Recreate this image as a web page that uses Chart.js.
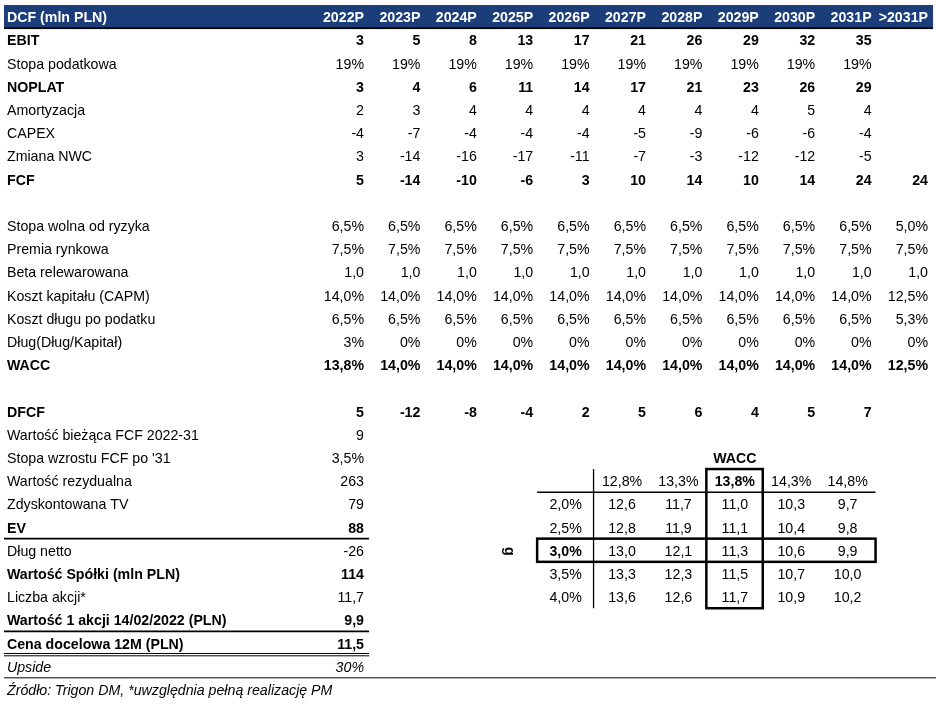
<!DOCTYPE html>
<html lang="pl">
<head>
<meta charset="utf-8">
<title>DCF (mln PLN)</title>
<script src="https://cdn.jsdelivr.net/npm/chart.js@4"></script>
<style>
    html, body { margin: 0; padding: 0; background: #fff; }
    #dcf { display: block; }
</style>
</head>
<body>
<canvas id="dcf" width="936" height="709"></canvas>
<script>
// --------------------
// Data
// --------------------
const tableTitle = 'DCF (mln PLN)';
const years = ['2022P','2023P','2024P','2025P','2026P','2027P','2028P','2029P','2030P','2031P','>2031P'];

const ebit        = [3, 5, 8, 13, 17, 21, 26, 29, 32, 35];
const taxRate     = [19, 19, 19, 19, 19, 19, 19, 19, 19, 19];
const noplat      = [3, 4, 6, 11, 14, 17, 21, 23, 26, 29];
const amortyzacja = [2, 3, 4, 4, 4, 4, 4, 4, 5, 4];
const capex       = [-4, -7, -4, -4, -4, -5, -9, -6, -6, -4];
const nwcChange   = [3, -14, -16, -17, -11, -7, -3, -12, -12, -5];
const fcf         = [5, -14, -10, -6, 3, 10, 14, 10, 14, 24, 24];

const riskFree    = [6.5, 6.5, 6.5, 6.5, 6.5, 6.5, 6.5, 6.5, 6.5, 6.5, 5.0];
const marketPrem  = [7.5, 7.5, 7.5, 7.5, 7.5, 7.5, 7.5, 7.5, 7.5, 7.5, 7.5];
const beta        = [1.0, 1.0, 1.0, 1.0, 1.0, 1.0, 1.0, 1.0, 1.0, 1.0, 1.0];
const costEquity  = [14.0, 14.0, 14.0, 14.0, 14.0, 14.0, 14.0, 14.0, 14.0, 14.0, 12.5];
const costDebt    = [6.5, 6.5, 6.5, 6.5, 6.5, 6.5, 6.5, 6.5, 6.5, 6.5, 5.3];
const debtShare   = [3, 0, 0, 0, 0, 0, 0, 0, 0, 0, 0];
const wacc        = [13.8, 14.0, 14.0, 14.0, 14.0, 14.0, 14.0, 14.0, 14.0, 14.0, 12.5];

const dfcf        = [5, -12, -8, -4, 2, 5, 6, 4, 5, 7];

const pvFcf       = 9;
const growthAfter = 3.5;
const residual    = 263;
const discountTV  = 79;
const ev          = 88;
const netDebt     = -26;
const equityValue = 114;
const shares      = 11.7;
const perShare    = 9.9;
const targetPrice = 11.5;
const upside      = 30;

// sensitivity: price vs WACC (columns) and g (rows)
const sensWacc = [12.8, 13.3, 13.8, 14.3, 14.8];
const sensG    = [2.0, 2.5, 3.0, 3.5, 4.0];
const sensPrice = [
    [12.6, 11.7, 11.0, 10.3, 9.7],
    [12.8, 11.9, 11.1, 10.4, 9.8],
    [13.0, 12.1, 11.3, 10.6, 9.9],
    [13.3, 12.3, 11.5, 10.7, 10.0],
    [13.6, 12.6, 11.7, 10.9, 10.2]
];

const sourceNote = 'Źródło: Trigon DM, *uwzględnia pełną realizację PM';

// --------------------
// Layout helpers
// --------------------
const ROW_H = 23.2;        // px per row
const FIRST_ROW = 41;      // px of row 0 (EBIT)
const COL_W = 56.4;        // px per year column
const COL0_RIGHT = 307.6;  // px where column 0 would end
const LABEL_X = -5.33;     // x value of row labels
const EDGE_X = -5.383;     // left edge of rules
const CENTER = -0.425;     // centred cell offset from column right edge
const FONT = '"Liberation Sans", Arial, sans-serif';
const FS = 14.2;

const fmt = (v, dec, suffix) => v.toFixed(dec).replace('.', ',') + (suffix || '');

// rows of the main table, in order (null = empty row)
const mainRows = [
    { label: 'EBIT', values: ebit, dec: 0, bold: true },
    { label: 'Stopa podatkowa', values: taxRate, dec: 0, suffix: '%' },
    { label: 'NOPLAT', values: noplat, dec: 0, bold: true },
    { label: 'Amortyzacja', values: amortyzacja, dec: 0 },
    { label: 'CAPEX', values: capex, dec: 0 },
    { label: 'Zmiana NWC', values: nwcChange, dec: 0 },
    { label: 'FCF', values: fcf, dec: 0, bold: true },
    null,
    { label: 'Stopa wolna od ryzyka', values: riskFree, dec: 1, suffix: '%' },
    { label: 'Premia rynkowa', values: marketPrem, dec: 1, suffix: '%' },
    { label: 'Beta relewarowana', values: beta, dec: 1 },
    { label: 'Koszt kapitału (CAPM)', values: costEquity, dec: 1, suffix: '%' },
    { label: 'Koszt długu po podatku', values: costDebt, dec: 1, suffix: '%' },
    { label: 'Dług(Dług/Kapitał)', values: debtShare, dec: 0, suffix: '%' },
    { label: 'WACC', values: wacc, dec: 1, suffix: '%', bold: true },
    null,
    { label: 'DFCF', values: dfcf, dec: 0, bold: true },
    { label: 'Wartość bieżąca FCF 2022-31', values: [pvFcf], dec: 0 },
    { label: "Stopa wzrostu FCF po '31", values: [growthAfter], dec: 1, suffix: '%' },
    { label: 'Wartość rezydualna', values: [residual], dec: 0 },
    { label: 'Zdyskontowana TV', values: [discountTV], dec: 0 },
    { label: 'EV', values: [ev], dec: 0, bold: true },
    { label: 'Dług netto', values: [netDebt], dec: 0 },
    { label: 'Wartość Spółki (mln PLN)', values: [equityValue], dec: 0, bold: true },
    { label: 'Liczba akcji*', values: [shares], dec: 1 },
    { label: 'Wartość 1 akcji 14/02/2022 (PLN)', values: [perShare], dec: 1, bold: true },
    { label: 'Cena docelowa 12M (PLN)', values: [targetPrice], dec: 1, bold: true },
    { label: 'Upside', values: [upside], dec: 0, suffix: '%', italic: true },
    { label: sourceNote, values: [], italic: true }
];

// --------------------
// Datasets (one per text row, points carry the cell text)
// --------------------
const datasets = [];

// header: title + years
datasets.push({
    data: [{ x: LABEL_X, y: -1 }].concat(years.map((y, k) => ({ x: k + 1, y: -1 }))),
    cells: [tableTitle].concat(years), bold: true, color: '#ffffff', align: 'right', firstLeft: true
});

mainRows.forEach((r, i) => {
    if (!r) return;
    datasets.push({
        data: [{ x: LABEL_X, y: i }].concat(r.values.map((v, k) => ({ x: k + 1, y: i }))),
        cells: [r.label].concat(r.values.map(v => fmt(v, r.dec, r.suffix))),
        bold: r.bold, italic: r.italic, color: '#000', align: 'right', firstLeft: true
    });
});

// sensitivity table: WACC title, header, rows
const SENS_ROW = 19;   // header row index
const SENS_COL = 6;    // first WACC column
datasets.push({
    data: [{ x: SENS_COL + 2 + CENTER, y: SENS_ROW - 1 }],
    cells: ['WACC'], bold: true, color: '#000', align: 'center'
});
datasets.push({
    data: sensWacc.map((w, k) => ({ x: SENS_COL + k + CENTER, y: SENS_ROW })),
    cells: sensWacc.map(w => fmt(w, 1, '%')), boldIdx: [2], color: '#000', align: 'center'
});
sensG.forEach((g, r) => {
    datasets.push({
        data: [{ x: SENS_COL - 1 + CENTER, y: SENS_ROW + 1 + r }]
            .concat(sensPrice[r].map((p, k) => ({ x: SENS_COL + k + CENTER, y: SENS_ROW + 1 + r }))),
        cells: [fmt(g, 1, '%')].concat(sensPrice[r].map(p => fmt(p, 1))),
        boldIdx: g === 3.0 ? [0] : [], color: '#000', align: 'center'
    });
});

// --------------------
// Table plugin
// --------------------
const tablePlugin = {
    id: 'dcfTable',
    beforeDatasetsDraw(chart) {
        const ctx = chart.ctx;
        const X = v => chart.scales.x.getPixelForValue(v);
        const Y = v => chart.scales.y.getPixelForValue(v);
        ctx.save();

        // header bar
        ctx.fillStyle = '#1b3d7a';
        ctx.fillRect(X(EDGE_X), Y(-1.55), X(11.09) - X(EDGE_X), Y(-0.6) - Y(-1.55));
        ctx.fillStyle = '#000';
        ctx.fillRect(X(EDGE_X), Y(-0.6), X(11.09) - X(EDGE_X), 2);

        const hline = (y, x0, x1, w) => {
            ctx.lineWidth = w;
            ctx.beginPath();
            ctx.moveTo(X(x0), Y(y));
            ctx.lineTo(X(x1), Y(y));
            ctx.stroke();
        };
        const vline = (x, y0, y1, w) => {
            ctx.lineWidth = w;
            ctx.beginPath();
            ctx.moveTo(X(x), Y(y0));
            ctx.lineTo(X(x), Y(y1));
            ctx.stroke();
        };
        ctx.strokeStyle = '#000';

        // summary rules
        hline(21.45, EDGE_X, 1.09, 1.7);
        hline(25.45, EDGE_X, 1.09, 1.7);
        hline(26.4, EDGE_X, 1.09, 1);
        hline(26.5, EDGE_X, 1.09, 1);
        hline(27.45, EDGE_X, 11.2, 1);

        // sensitivity grid
        const e = 0.07; // cell edge past column right
        hline(SENS_ROW + 0.45, SENS_COL - 2 + e, SENS_COL + 4 + e, 1.3);
        vline(SENS_COL - 1 + e, SENS_ROW - 0.55, SENS_ROW + 5.45, 1.3);
        ctx.lineWidth = 2.5;
        ctx.strokeRect(X(SENS_COL + 1 + e), Y(SENS_ROW - 0.55),
            X(SENS_COL + 2 + e) - X(SENS_COL + 1 + e), Y(SENS_ROW + 5.45) - Y(SENS_ROW - 0.55));
        ctx.strokeRect(X(SENS_COL - 2 + e), Y(SENS_ROW + 2.45),
            X(SENS_COL + 4 + e) - X(SENS_COL - 2 + e), Y(SENS_ROW + 3.45) - Y(SENS_ROW + 2.45));
        ctx.restore();
    },
    afterDatasetsDraw(chart) {
        const ctx = chart.ctx;
        ctx.save();
        ctx.textBaseline = 'middle';
        chart.data.datasets.forEach((ds, i) => {
            const meta = chart.getDatasetMeta(i);
            meta.data.forEach((pt, k) => {
                const bold = ds.bold || (ds.boldIdx && ds.boldIdx.includes(k));
                ctx.font = (ds.italic ? 'italic ' : '') + (bold ? 'bold ' : '') + FS + 'px ' + FONT;
                ctx.fillStyle = ds.color;
                ctx.textAlign = (ds.firstLeft && k === 0) ? 'left' : ds.align;
                ctx.fillText(ds.cells[k], pt.x, pt.y + 0.5);
            });
        });

        // rotated "g" label of the sensitivity rows
        const X = v => chart.scales.x.getPixelForValue(v);
        const Y = v => chart.scales.y.getPixelForValue(v);
        ctx.translate(X(SENS_COL - 2 + CENTER), Y(SENS_ROW + 3));
        ctx.rotate(Math.PI / 2);
        ctx.font = 'bold ' + FS + 'px ' + FONT;
        ctx.textAlign = 'center';
        ctx.fillStyle = '#000';
        ctx.fillText('g', 0, 0);
        ctx.restore();
    }
};

new Chart(document.getElementById('dcf'), {
    type: 'scatter',
    data: { datasets: datasets },
    options: {
        responsive: false,
        animation: false,
        events: [],
        layout: { padding: 0 },
        elements: { point: { radius: 0, hoverRadius: 0 } },
        plugins: { legend: { display: false }, tooltip: { enabled: false } },
        scales: {
            x: {
                type: 'linear', display: false,
                min: -COL0_RIGHT / COL_W,
                max: (936 - COL0_RIGHT) / COL_W
            },
            y: {
                type: 'linear', display: false, reverse: true,
                min: -FIRST_ROW / ROW_H,
                max: (709 - FIRST_ROW) / ROW_H
            }
        }
    },
    plugins: [tablePlugin]
});
</script>
</body>
</html>
